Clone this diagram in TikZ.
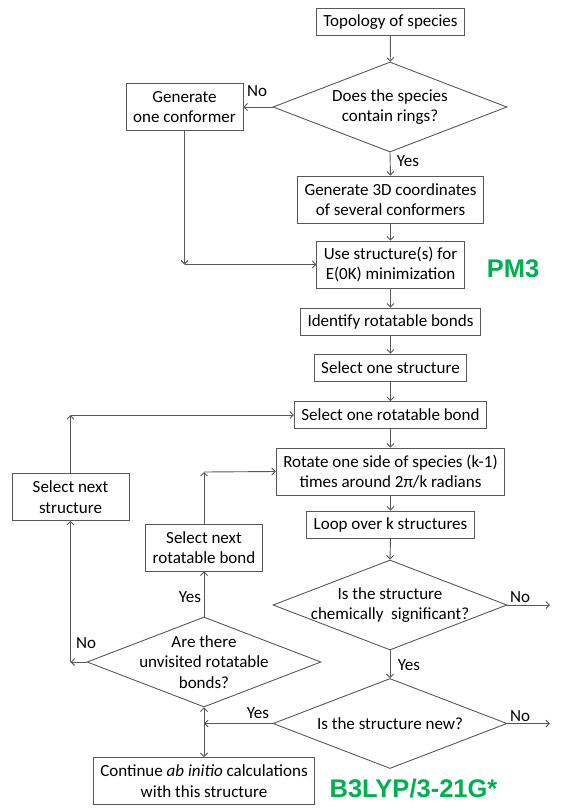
\documentclass[tikz,border=0pt]{standalone}
\usepackage{fontspec}
\setmainfont{Carlito}
\newfontfamily\levelfont{Liberation Sans}
\usepackage{tikz}
\usetikzlibrary{arrows.meta, shapes.geometric}
\definecolor{flowLine}{HTML}{595959}
\definecolor{levelGreen}{HTML}{00B050}

\tikzset{
  proc/.style={draw=flowLine, line width=0.9pt, rectangle, align=center,
    inner xsep=7pt, inner ysep=2pt, minimum height=27pt},
  proctwo/.style={proc, minimum height=47pt},
  decision/.style={draw=flowLine, line width=0.9pt, diamond, inner sep=0pt,
    minimum width=234pt, minimum height=90pt},
  dtext/.style={align=center},
  flow/.style={draw=flowLine, line width=0.9pt, -{Straight Barb[length=3.5pt,width=7pt]}},
  level/.style={font=\levelfont\bfseries\fontsize{25.5}{28}\selectfont, text=levelGreen},
}

\begin{document}
\begin{tikzpicture}[x=1pt, y=-1pt, font=\fontsize{17}{20.5}\selectfont]
  \useasboundingbox (0,0) rectangle (582,811);
  % main column
  \node[proc] (topo) at (390.5,22) {Topology of species};
  \node[decision, label={[dtext]center:{Does the species\\contain rings?}}] (rings) at (390,107) {};
  \node[proctwo, minimum width=117pt] (oneconf) at (184.5,107) {Generate\\one conformer};
  \node[proctwo] (coords) at (390.5,199.5) {Generate 3D coordinates\\of several conformers};
  \node[proctwo] (minim) at (390.5,264.5) {Use structure(s) for\\E(0K) minimization};
  \node[level] (pm) at (513,269) {PM3};
  \node[proc] (bonds) at (390.5,321.5) {Identify rotatable bonds};
  \node[proc] (onestr) at (390.5,367.5) {Select one structure};
  \node[proc] (onebond) at (390.5,415) {Select one rotatable bond};
  \node[proctwo] (rotate) at (390.5,471.5) {Rotate one side of species (k-1)\\times around 2π/k radians};
  \node[proc] (loop) at (390.5,524.5) {Loop over k structures};
  \node[decision, label={[dtext]center:{Is the structure\\chemically~ significant?}}] (signif) at (390,605) {};
  \node[decision, label={[dtext]center:{Is the structure new?}}] (new) at (390,723.5) {};
  % left loops
  \node[proctwo, minimum width=117pt] (nextstr) at (70.5,497) {Select next\\structure};
  \node[proctwo] (nextbond) at (204,547.5) {Select next\\rotatable bond};
  \node[decision, label={[dtext]center:{Are there\\unvisited rotatable\\bonds?}}] (unvis) at (204,662) {};
  \node[proctwo] (cont) at (204,781) {Continue \textit{ab initio} calculations\\with this structure};
  \node[level] (dft) at (413.5,789) {B3LYP/3-21G*};
  % corners and free ends
  \coordinate (c1) at (184.5,264.5);
  \coordinate (c2) at (204,472);
  \coordinate (c3) at (70.5,662);
  \coordinate (c4) at (70.5,415);
  \coordinate (j) at (204,723.5);
  \coordinate (outsig) at (550,605);
  \coordinate (outnew) at (550,723.5);

  \draw[flow] (topo) -- (rings);
  \draw[flow] (rings.west) -- (oneconf.east);
  \node (nor) at (257,91) {No};
  \draw[flow] (rings.south) -- (coords.north);
  \node (yesr) at (408,161) {Yes};
  \draw[flow] (coords) -- (minim);
  \draw[flow] (oneconf.south) -- (c1);
  \draw[flow] (c1) -- (minim.west);
  \draw[flow] (minim) -- (bonds);
  \draw[flow] (bonds) -- (onestr);
  \draw[flow] (onestr) -- (onebond);
  \draw[flow] (onebond) -- (rotate);
  \draw[flow] (rotate) -- (loop);
  \draw[flow] (loop.south) -- (signif.north);
  \draw[flow] (signif.east) -- (outsig);
  \node (nos) at (520,597) {No};
  \draw[flow] (signif.south) -- (new.north);
  \node (yess) at (409,665) {Yes};
  \draw[flow] (new.east) -- (outnew);
  \node (non) at (520,716) {No};
  \draw[flow] (new.west) -- (j);
  \node (yesn) at (258,713) {Yes};
  \draw[flow] (j) -- (unvis.south);
  \draw[flow] (j) -- (cont.north);
  \draw[flow] (unvis.north) -- (nextbond.south);
  \node (yesu) at (190,597) {Yes};
  \draw[flow] (nextbond.north) -- (c2);
  \draw[flow] (c2) -- (rotate.west);
  \draw[flow] (unvis.west) -- (c3);
  \node (nou) at (86,643) {No};
  \draw[flow] (c3) -- (nextstr.south);
  \draw[flow] (nextstr.north) -- (c4);
  \draw[flow] (c4) -- (onebond.west);
\end{tikzpicture}
\end{document}
